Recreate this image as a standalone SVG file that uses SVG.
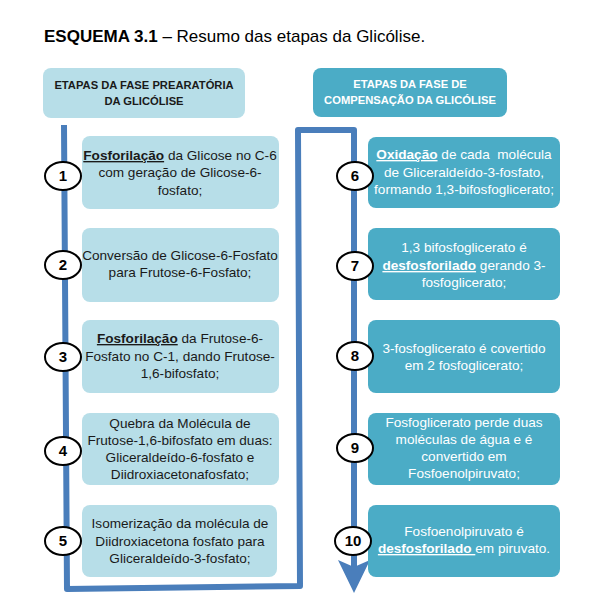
<svg xmlns="http://www.w3.org/2000/svg" width="600" height="600" viewBox="0 0 600 600">
<defs>
<style>
text{font-family:"Liberation Sans",Arial,sans-serif;}
.title{font-size:17px;fill:#000;}
.hdr{font-size:11.2px;font-weight:bold;text-anchor:middle;}
.lb{fill:#b7dee8;}
.rb{fill:#4bacc6;}
.bt{font-size:13.6px;text-anchor:middle;fill:#1a1a1a;}
.wt{font-size:13.6px;text-anchor:middle;fill:#ffffff;}
.u{font-weight:bold;text-decoration:underline;}
.circ{fill:#ffffff;stroke:#000;stroke-width:2;}
.num{font-size:15px;font-weight:bold;text-anchor:middle;fill:#000;}
.flow{fill:none;stroke:#4a7ebb;stroke-width:6;stroke-linejoin:round;}
</style>
</defs>
<rect width="600" height="600" fill="#ffffff"/>
<text class="title" x="44" y="42"><tspan font-weight="bold">ESQUEMA 3.1</tspan> – Resumo das etapas da Glicólise.</text>

<g id="header-left">
<rect class="lb" x="43" y="68" width="202" height="50" rx="8"/>
<text class="hdr" x="144" y="89" fill="#1a1a1a">ETAPAS DA FASE PREARATÓRIA</text>
<text class="hdr" x="144" y="105" fill="#1a1a1a">DA GLICÓLISE</text>
</g>
<g id="header-right">
<rect class="rb" x="313" y="68" width="194" height="49" rx="8"/>
<text class="hdr" x="410" y="88" fill="#ffffff">ETAPAS DA FASE DE</text>
<text class="hdr" x="410" y="104" fill="#ffffff">COMPENSAÇÃO DA GLICÓLISE</text>
</g>

<g id="connectors">
<path class="flow" d="M64,125 L67,589 L300,586 L298,130 L354,130 L354,568"/>
<polygon points="338,560 354,567 370,560 354,593" fill="#4a7ebb"/>
</g>

<g id="step1">
<rect class="lb" x="82" y="136" width="197" height="73" rx="8"/>
<text class="bt" x="180" y="160"><tspan class="u">Fosforilação</tspan> da Glicose no C-6</text>
<text class="bt" x="180" y="177">com geração de Glicose-6-</text>
<text class="bt" x="180" y="195">fosfato;</text>
<ellipse class="circ" cx="63" cy="176" rx="18" ry="14"/>
<text class="num" x="63" y="181">1</text>
</g>
<g id="step2">
<rect class="lb" x="82" y="228" width="197" height="74" rx="8"/>
<text class="bt" x="180" y="260">Conversão de Glicose-6-Fosfato</text>
<text class="bt" x="180" y="277">para Frutose-6-Fosfato;</text>
<ellipse class="circ" cx="63" cy="265" rx="18" ry="14"/>
<text class="num" x="63" y="270">2</text>
</g>
<g id="step3">
<rect class="lb" x="82" y="320" width="197" height="73" rx="8"/>
<text class="bt" x="180" y="343"><tspan class="u">Fosforilação</tspan> da Frutose-6-</text>
<text class="bt" x="180" y="361">Fosfato no C-1, dando Frutose-</text>
<text class="bt" x="180" y="378">1,6-bifosfato;</text>
<ellipse class="circ" cx="63" cy="357" rx="18" ry="14"/>
<text class="num" x="63" y="362">3</text>
</g>
<g id="step4">
<rect class="lb" x="82" y="413" width="197" height="72" rx="8"/>
<text class="bt" x="180" y="428">Quebra da Molécula de</text>
<text class="bt" x="180" y="445">Frutose-1,6-bifosfato em duas:</text>
<text class="bt" x="180" y="462">Gliceraldeído-6-fosfato e</text>
<text class="bt" x="180" y="479">Diidroxiacetonafosfato;</text>
<ellipse class="circ" cx="63" cy="451" rx="18" ry="14"/>
<text class="num" x="63" y="456">4</text>
</g>
<g id="step5">
<rect class="lb" x="82" y="505" width="195" height="72" rx="8"/>
<text class="bt" x="180" y="528">Isomerização da molécula de</text>
<text class="bt" x="180" y="546">Diidroxiacetona fosfato para</text>
<text class="bt" x="180" y="563">Gliceraldeído-3-fosfato;</text>
<ellipse class="circ" cx="63" cy="541" rx="18" ry="14"/>
<text class="num" x="63" y="546">5</text>
</g>

<g id="step6">
<rect class="rb" x="368" y="137" width="192" height="71" rx="8"/>
<text class="wt" x="464" y="159"><tspan class="u">Oxidação</tspan> de cada&#160; molécula</text>
<text class="wt" x="464" y="177">de Gliceraldeído-3-fosfato,</text>
<text class="wt" x="464" y="194">formando 1,3-bifosfoglicerato;</text>
<ellipse class="circ" cx="355" cy="176" rx="18" ry="14"/>
<text class="num" x="355" y="181">6</text>
</g>
<g id="step7">
<rect class="rb" x="368" y="228" width="192" height="72" rx="8"/>
<text class="wt" x="464" y="252">1,3 bifosfoglicerato é</text>
<text class="wt" x="464" y="270"><tspan class="u">desfosforilado</tspan> gerando 3-</text>
<text class="wt" x="464" y="287">fosfoglicerato;</text>
<ellipse class="circ" cx="355" cy="266" rx="18" ry="14"/>
<text class="num" x="355" y="271">7</text>
</g>
<g id="step8">
<rect class="rb" x="368" y="320" width="192" height="73" rx="8"/>
<text class="wt" x="464" y="353">3-fosfoglicerato é covertido</text>
<text class="wt" x="464" y="370">em 2 fosfoglicerato;</text>
<ellipse class="circ" cx="355" cy="356" rx="18" ry="14"/>
<text class="num" x="355" y="361">8</text>
</g>
<g id="step9">
<rect class="rb" x="368" y="413" width="192" height="72" rx="8"/>
<text class="wt" x="464" y="427">Fosfoglicerato perde duas</text>
<text class="wt" x="464" y="444">moléculas de água e é</text>
<text class="wt" x="464" y="461">convertido em</text>
<text class="wt" x="464" y="478">Fosfoenolpiruvato;</text>
<ellipse class="circ" cx="355" cy="448" rx="18" ry="14"/>
<text class="num" x="355" y="453">9</text>
</g>
<g id="step10">
<rect class="rb" x="368" y="505" width="192" height="72" rx="8"/>
<text class="wt" x="464" y="536">Fosfoenolpiruvato é</text>
<text class="wt" x="464" y="553"><tspan class="u">desfosforilado&#160;</tspan>em piruvato.</text>
<ellipse class="circ" cx="353" cy="541" rx="18" ry="14"/>
<text class="num" x="353" y="546">10</text>
</g>
</svg>
